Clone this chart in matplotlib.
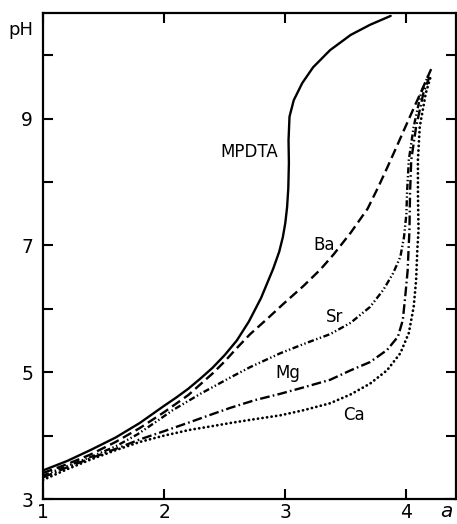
import matplotlib
matplotlib.use("Agg")
import matplotlib.pyplot as plt

plt.rcParams['font.family'] = ['DejaVu Sans']
plt.rcParams['lines.scale_dashes'] = False

# MPDTA (solid)
mpdta_x = [1.0, 1.2, 1.39, 1.6, 1.8, 2.0, 2.1, 2.2, 2.3, 2.4, 2.5, 2.6, 2.7, 2.8, 2.85,
           2.9, 2.95, 2.98, 3.0, 3.015, 3.025, 3.03, 3.027, 3.035, 3.07, 3.14, 3.23,
           3.37, 3.54, 3.70, 3.87]
mpdta_ph = [3.45, 3.6, 3.77, 3.97, 4.2, 4.47, 4.6, 4.74, 4.9, 5.07, 5.27, 5.5, 5.8, 6.17,
            6.4, 6.63, 6.9, 7.13, 7.35, 7.6, 7.9, 8.3, 8.66, 9.03, 9.29, 9.56, 9.81,
            10.08, 10.32, 10.48, 10.62]
# Ba (dashed)
ba_x = [1.0, 1.2, 1.39, 1.6, 1.8, 2.0, 2.2, 2.4, 2.5, 2.6, 2.71, 2.85, 2.98, 3.15, 3.29,
        3.4, 3.54, 3.68, 3.77, 3.84, 3.92, 3.98, 4.05, 4.09, 4.16, 4.22]
ba_ph = [3.41, 3.55, 3.7, 3.9, 4.12, 4.37, 4.64, 4.98, 5.17, 5.38, 5.6, 5.84, 6.07, 6.36,
         6.62, 6.86, 7.2, 7.58, 7.93, 8.22, 8.56, 8.82, 9.12, 9.29, 9.59, 9.85]
# Sr (dash-dot-dot)
sr_x = [1.0, 1.2, 1.39, 1.6, 1.78, 1.95, 2.07, 2.3, 2.55, 2.71, 2.96, 3.2, 3.37, 3.54,
        3.7, 3.81, 3.89, 3.95, 3.98, 4.0, 4.005, 4.02, 4.06, 4.12, 4.18]
sr_ph = [3.37, 3.52, 3.66, 3.83, 4.02, 4.24, 4.4, 4.66, 4.92, 5.08, 5.3, 5.48, 5.6, 5.78,
         6.03, 6.3, 6.56, 6.82, 7.13, 7.5, 7.83, 8.35, 8.87, 9.4, 9.68]
# Mg (dash-dot)
mg_x = [1.0, 1.2, 1.39, 1.6, 1.8, 2.0, 2.21, 2.4, 2.55, 2.75, 2.96, 3.15, 3.37, 3.54,
        3.70, 3.84, 3.93, 3.97, 3.99, 4.01, 4.02, 4.025, 4.03, 4.04, 4.08, 4.14, 4.19]
mg_ph = [3.34, 3.5, 3.64, 3.79, 3.94, 4.07, 4.21, 4.34, 4.44, 4.56, 4.66, 4.76, 4.88,
         5.03, 5.16, 5.35, 5.56, 5.82, 6.19, 6.6, 7.03, 7.24, 7.83, 8.35, 8.87, 9.4, 9.66]
# Ca (dotted)
ca_x = [1.0, 1.2, 1.39, 1.6, 1.8, 2.0, 2.21, 2.4, 2.55, 2.75, 2.96, 3.15, 3.37, 3.54,
        3.70, 3.84, 3.95, 4.02, 4.06, 4.08, 4.09, 4.1, 4.095, 4.095, 4.11, 4.16, 4.2]
ca_ph = [3.3, 3.47, 3.62, 3.77, 3.9, 4.0, 4.09, 4.15, 4.2, 4.26, 4.32, 4.4, 4.51, 4.65,
         4.82, 5.03, 5.3, 5.62, 6.03, 6.45, 6.93, 7.24, 7.83, 8.35, 8.87, 9.4, 9.66]

labels = ["MPDTA", "Ba", "Sr", "Mg", "Ca"]
label_x = [2.70, 3.32, 3.41, 3.02, 3.57]
label_y = [8.47, 7.0, 5.87, 4.98, 4.32]

x_ticks = [1, 2, 3, 4]
y_ticks = [3, 4, 5, 6, 7, 8, 9, 10]
y_ticklabels = ["3", "", "5", "", "7", "", "9", ""]

fig = plt.figure(figsize=(4.57, 5.24), dpi=100)
ax = fig.add_axes([0.094, 0.0477, 0.904, 0.928])

lw = 1.7
ax.plot(mpdta_x, mpdta_ph, color='black', lw=lw, solid_capstyle='round',
        solid_joinstyle='round')
ax.plot(ba_x, ba_ph, color='black', lw=lw, linestyle=(0, (7, 3.5)))
ax.plot(sr_x, sr_ph, color='black', lw=lw, linestyle=(0, (4.5, 1.8, 1.0, 1.8, 1.0, 1.8)))
ax.plot(mg_x, mg_ph, color='black', lw=lw, linestyle=(0, (7, 2.3, 1.2, 2.3)))
ax.plot(ca_x, ca_ph, color='black', lw=lw + 0.3, linestyle=(0, (0.1, 3.2)),
        dash_capstyle='round')

for t, lx, ly in zip(labels, label_x, label_y):
    ax.text(lx, ly, t, ha='center', va='center', fontsize=12)

ax.set_xlim(1, 4.41)
ax.set_ylim(3, 10.67)
ax.set_xticks(x_ticks)
ax.set_xticklabels([str(v) for v in x_ticks])
ax.set_yticks(y_ticks)
ax.set_yticklabels(y_ticklabels)
ax.tick_params(direction='in', length=7, width=1.5, labelsize=13.5,
               top=True, right=True)
ax.tick_params(axis='x', pad=3)
ax.tick_params(axis='y', pad=7)
for s in ax.spines.values():
    s.set_linewidth(1.6)

fig.text(0.046, 0.943, "pH", ha='center', va='center', fontsize=13)
fig.text(0.976, 0.023, "a", ha='center', va='center', fontsize=14.5, style='italic')

fig.savefig("out.png", dpi=100)
